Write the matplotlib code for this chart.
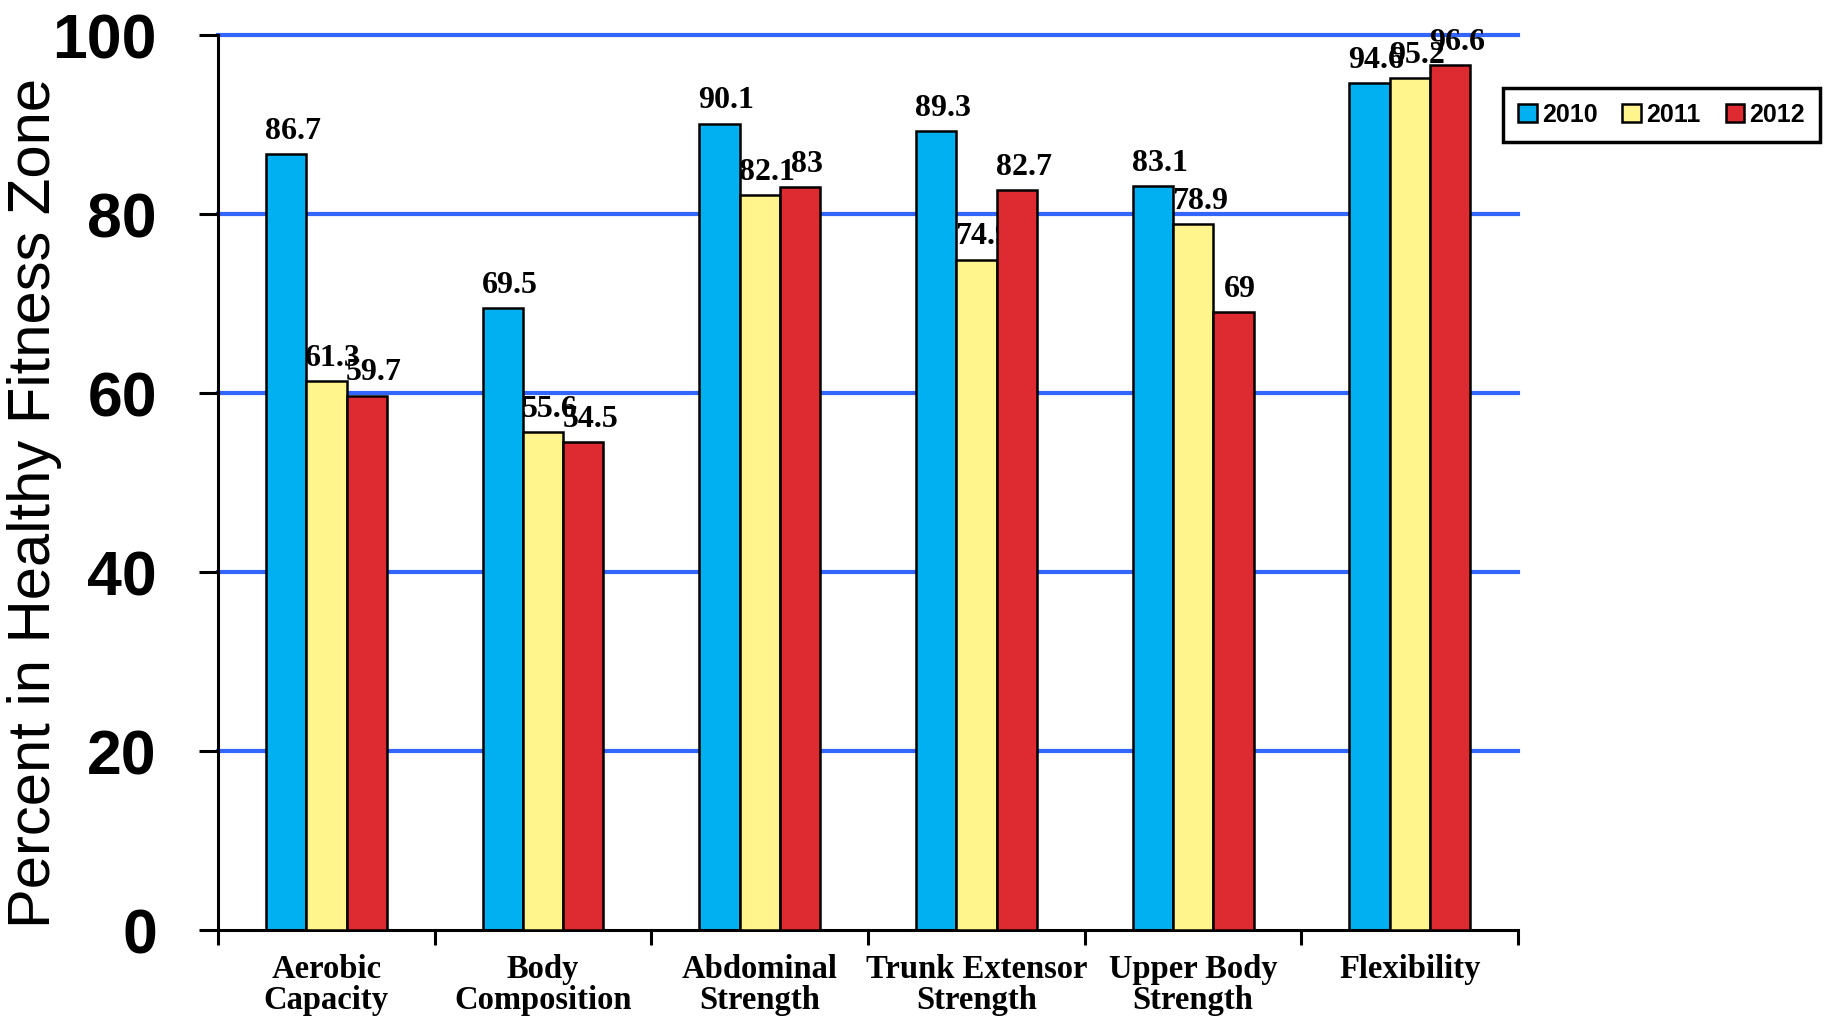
import numpy as np
import matplotlib
matplotlib.use('Agg')
import matplotlib.pyplot as plt

# data
categories = ['Aerobic\nCapacity', 'Body\nComposition', 'Abdominal\nStrength',
              'Trunk Extensor\nStrength', 'Upper Body\nStrength', 'Flexibility']
years = ['2010', '2011', '2012']
vals_2010 = [86.7, 69.5, 90.1, 89.3, 83.1, 94.6]
vals_2011 = [61.3, 55.6, 82.1, 74.9, 78.9, 95.2]
vals_2012 = [59.7, 54.5, 83, 82.7, 69, 96.6]
yticks = [0, 20, 40, 60, 80, 100]

colors = ['#00B0F0', '#FFF58C', '#DE2B31']
grid_blue = '#3366FF'
sans = ['Liberation Sans', 'DejaVu Sans']
serif = ['Liberation Serif', 'DejaVu Serif']

fig = plt.figure(figsize=(18.29, 10.21), dpi=100)
ax = fig.add_axes([0.1192, 0.0891, 0.7108, 0.8766])

x = np.arange(len(categories))
w = 0.186
series = [vals_2010, vals_2011, vals_2012]

ax.set_xlim(-0.5, len(categories) - 0.5)
ax.set_ylim(0, 100)

for yv in yticks[1:]:
    ax.axhline(yv, color=grid_blue, lw=3, zorder=0, clip_on=False)

z = 2
for i, (vals, col, yr) in enumerate(zip(series, colors, years)):
    pos = x + (i - 1) * w
    ax.bar(pos, vals, width=w, color=col, edgecolor='black', linewidth=1.8,
           label=yr, zorder=z)
    # labels sit at the same level so the next series' bars can cover them
    for px, v in zip(pos, vals):
        ax.annotate(f'{v:g}', (px, v), xytext=(5, 11), textcoords='offset points',
                    ha='center', va='baseline', fontsize=23, fontweight='bold',
                    family=serif, zorder=z)
    z += 1

# axes styling
for s in ['top', 'right']:
    ax.spines[s].set_visible(False)
ax.spines['left'].set_linewidth(2.2)
ax.spines['bottom'].set_linewidth(2.2)

ax.set_yticks(yticks)
ax.set_yticklabels([str(t) for t in yticks], fontsize=45, fontweight='bold', family=sans)
ax.tick_params(axis='y', length=14, width=2.2, pad=30)

ax.set_xticks(x)
ax.set_xticklabels(categories, fontsize=23.5, fontweight='bold', family=serif,
                   linespacing=1.0)
ax.set_xticks(np.arange(-0.5, len(categories)), minor=True)
ax.tick_params(axis='x', which='major', length=0, pad=17)
ax.tick_params(axis='x', which='minor', length=11, width=2.2)

fig.text(0.019, 0.507, 'Percent in Healthy Fitness Zone', rotation=90,
         ha='center', va='center', fontsize=43, family=sans)

leg = ax.legend(loc='upper left', bbox_to_anchor=(0.8218, 0.9138),
                bbox_transform=fig.transFigure, borderaxespad=0, ncol=3,
                fancybox=False, edgecolor='black', framealpha=1,
                prop={'family': sans, 'weight': 'bold', 'size': 18},
                handlelength=0.75, handleheight=0.75, handletextpad=0.2,
                columnspacing=1.0, borderpad=0.6)
leg.get_frame().set_linewidth(2.5)

fig.savefig('out.png', dpi=100)
